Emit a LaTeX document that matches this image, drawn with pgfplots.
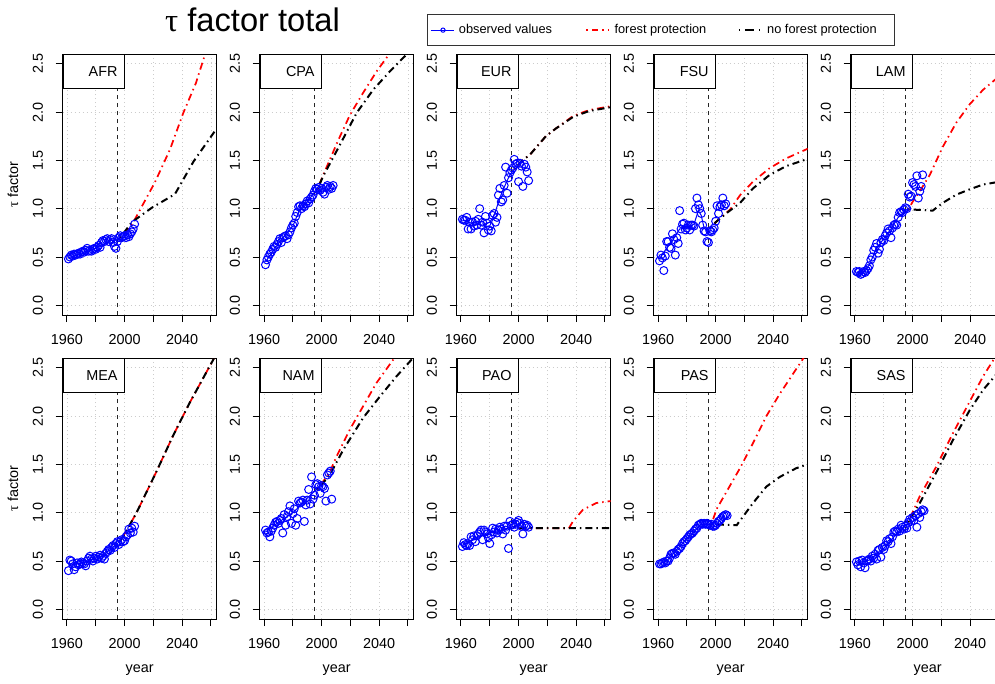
\documentclass[border=0pt]{standalone}
\usepackage{pgfplots}
\pgfplotsset{compat=1.18}
\usepackage{fontspec}
\setmainfont{Liberation Sans}
\newfontfamily\symf{Liberation Serif}
\newcommand\fs{\fontsize{10.8}{13}\selectfont}
\newcommand\ls{\fontsize{9.6}{11.5}\selectfont}

\pgfplotsset{
  panel/.style={
    scale only axis, width=115.5pt, height=195.75pt,
    xmin=1957, xmax=2064, ymin=-0.1, ymax=2.6,
    xtick={1960,1980,2000,2020,2040,2060},
    xticklabels={1960,,2000,,2040,},
    ytick={0,0.5,1,1.5,2,2.5},
    yticklabels={0.0,0.5,1.0,1.5,2.0,2.5},
    xtick pos=bottom, ytick pos=left,
    tick align=outside, major tick length=5.25pt,
    tick style={black, line width=0.75pt},
    axis line style={black, line width=0.75pt},
    grid=major, grid style={gray!40, line width=0.6pt, dash pattern=on 0.75pt off 2.25pt},
    ticklabel style={font=\fs},
    xticklabel shift=6pt, yticklabel shift=6pt,
    yticklabel style={rotate=90, anchor=south},
    every axis x label/.style={at={(axis description cs:0.5,0)}, anchor=center, yshift=-38.6pt, font=\fs},
  },
  obs/.style={only marks, mark=o, mark size=3pt, blue, mark options={line width=0.75pt}, forget plot},
  fit/.style={blue, line width=0.75pt, no marks, forget plot},
  fp/.style={red, line width=1.3pt, dash pattern=on 1.1pt off 3pt on 5.3pt off 3pt, no marks, forget plot},
  nfp/.style={black, line width=1.5pt, dash pattern=on 1.1pt off 3pt on 5.3pt off 3pt, no marks, forget plot},
  vl/.style={black!85, line width=0.6pt, dash pattern=on 3pt off 3pt, no marks, forget plot},
}
\newcommand\reg[1]{\node[draw, fill=white, line width=0.75pt, anchor=north west, inner xsep=5pt, inner ysep=0pt, text width=35.75pt, align=right, minimum height=25.5pt, font=\fs] at (rel axis cs:0,1) {#1};}

\begin{document}
\begin{tikzpicture}

% ---------- row 1 ----------
\begin{axis}[panel, at={(47pt,-40.5pt)}, anchor=north west,
  legend columns=3,
  legend style={at={(2.3636,1.1533)}, anchor=north west, draw=black!80, line width=0.75pt,
    font=\ls, inner xsep=2.5pt, inner ysep=5.5pt, column sep=1.3pt},
  legend cell align=left]
\addlegendimage{legend image code/.code={\draw[blue, line width=0.75pt] (0pt,0pt) -- (17.25pt,0pt); \draw[blue, line width=0.75pt] (9pt,0pt) circle[radius=1.6pt];}}
\addlegendentry{\makebox[91.8pt][l]{observed values}}
\addlegendimage{legend image code/.code={\draw[red, line width=1.1pt, dash pattern=on 1pt off 3.5pt on 4pt off 3.5pt] (0pt,0pt) -- (17.25pt,0pt);}}
\addlegendentry{\makebox[89.3pt][l]{forest protection}}
\addlegendimage{legend image code/.code={\draw[black, line width=1.3pt, dash pattern=on 1pt off 3.5pt on 7pt off 3.5pt] (0pt,0pt) -- (17.25pt,0pt);}}
\addlegendentry{\makebox[90.8pt][l]{no forest protection}}
\addplot[vl] coordinates {(1995,-0.1) (1995,2.6)};
\addplot[obs] coordinates {(1961,0.48)(1962,0.50)(1963,0.52)(1964,0.51)(1965,0.53)(1966,0.52)(1967,0.53)(1968,0.54)(1969,0.53)(1970,0.55)(1971,0.56)(1972,0.55)(1973,0.57)(1974,0.59)(1975,0.56)(1976,0.57)(1977,0.56)(1978,0.58)(1979,0.59)(1980,0.58)(1981,0.60)(1982,0.62)(1983,0.60)(1984,0.65)(1985,0.67)(1986,0.66)(1987,0.68)(1988,0.69)(1989,0.66)(1990,0.68)(1991,0.69)(1992,0.65)(1993,0.61)(1994,0.59)(1995,0.66)(1996,0.70)(1997,0.72)(1998,0.70)(1999,0.71)(2000,0.72)(2001,0.70)(2002,0.73)(2003,0.71)(2004,0.74)(2005,0.76)(2006,0.79)(2007,0.84)};
\addplot[fit] coordinates {(1961,0.49)(1970,0.54)(1980,0.59)(1990,0.67)(1995,0.68)(1997,0.70)};
\addplot[fp] coordinates {(1997,0.70)(2005,0.83)(2021,1.27)(2031.5,1.61)(2040.8,1.99)(2049.6,2.30)(2055.8,2.59)(2060,2.75)};
\addplot[nfp] coordinates {(1997,0.70)(2005,0.86)(2019,1.01)(2035,1.15)(2048,1.49)(2065,1.85)};
\reg{AFR}
\end{axis}

\begin{axis}[panel, at={(194.8pt,-40.5pt)}, anchor=north west]
\addplot[vl] coordinates {(1995,-0.1) (1995,2.6)};
\addplot[obs] coordinates {(1961,0.42)(1962,0.47)(1963,0.50)(1964,0.53)(1965,0.55)(1966,0.58)(1967,0.61)(1968,0.60)(1969,0.63)(1970,0.66)(1971,0.69)(1972,0.65)(1973,0.70)(1974,0.71)(1975,0.72)(1976,0.69)(1977,0.73)(1978,0.76)(1979,0.80)(1980,0.83)(1981,0.85)(1982,0.92)(1983,0.96)(1984,1.02)(1985,1.03)(1986,1.00)(1987,1.03)(1988,1.02)(1989,1.05)(1990,1.08)(1991,1.06)(1992,1.10)(1993,1.12)(1994,1.14)(1995,1.18)(1996,1.21)(1997,1.20)(1998,1.22)(1999,1.19)(2000,1.21)(2001,1.17)(2002,1.15)(2003,1.22)(2004,1.24)(2005,1.20)(2006,1.23)(2007,1.21)(2008,1.24)};
\addplot[fit] coordinates {(1961,0.45)(1970,0.64)(1980,0.82)(1985,1.00)(1990,1.07)(1995,1.17)(1997,1.20)};
\addplot[fp] coordinates {(1997,1.20)(2002.3,1.39)(2011.6,1.71)(2019.7,1.97)(2028.9,2.20)(2038.2,2.42)(2047,2.60)(2052,2.70)};
\addplot[nfp] coordinates {(1997,1.20)(2001.2,1.34)(2012.7,1.66)(2024.3,1.99)(2035.8,2.23)(2047.4,2.42)(2056.6,2.56)(2064,2.66)};
\reg{CPA}
\end{axis}

\begin{axis}[panel, at={(342.5pt,-40.5pt)}, anchor=north west]
\addplot[vl] coordinates {(1995,-0.1) (1995,2.6)};
\addplot[obs] coordinates {(1961,0.89)(1962,0.88)(1963,0.88)(1964,0.91)(1965,0.79)(1966,0.86)(1967,0.79)(1968,0.86)(1969,0.82)(1970,0.87)(1971,0.83)(1972,0.89)(1973,1.00)(1974,0.83)(1975,0.86)(1976,0.75)(1977,0.92)(1978,0.85)(1979,0.78)(1980,0.82)(1981,0.77)(1982,0.93)(1983,0.95)(1984,0.86)(1985,0.91)(1986,1.14)(1987,1.21)(1988,1.07)(1989,1.09)(1990,1.24)(1991,1.43)(1992,1.16)(1993,1.32)(1994,1.37)(1995,1.40)(1996,1.42)(1997,1.51)(1998,1.46)(1999,1.47)(2000,1.28)(2001,1.47)(2002,1.44)(2003,1.23)(2004,1.46)(2005,1.43)(2006,1.38)(2007,1.29)};
\addplot[fit] coordinates {(1961,0.88)(1965,0.86)(1970,0.84)(1975,0.83)(1980,0.86)(1983,0.93)(1985,1.02)(1988,1.15)(1990,1.22)(1993,1.32)(1995,1.37)(1997,1.41)};
\addplot[fp] coordinates {(1997,1.41)(2002,1.49)(2008,1.56)(2019,1.75)(2026,1.83)(2038,1.96)(2049,2.02)(2064,2.06)};
\addplot[nfp] coordinates {(1997,1.41)(2002,1.49)(2008,1.56)(2019,1.75)(2026,1.83)(2038,1.95)(2049,2.01)(2064,2.05)};
\reg{EUR}
\end{axis}

\begin{axis}[panel, at={(490.3pt,-40.5pt)}, anchor=north west]
\addplot[vl] coordinates {(1995,-0.1) (1995,2.6)};
\addplot[obs] coordinates {(1961,0.46)(1962,0.52)(1963,0.49)(1964,0.36)(1965,0.51)(1966,0.66)(1967,0.66)(1968,0.60)(1969,0.59)(1970,0.74)(1971,0.68)(1972,0.52)(1973,0.70)(1974,0.64)(1975,0.98)(1976,0.79)(1977,0.84)(1978,0.85)(1979,0.78)(1980,0.80)(1981,0.83)(1982,0.78)(1983,0.83)(1984,0.83)(1985,0.82)(1986,1.00)(1987,1.11)(1988,1.04)(1989,1.00)(1990,0.95)(1991,0.83)(1992,0.77)(1993,0.76)(1994,0.66)(1995,0.65)(1996,0.77)(1997,0.76)(1998,0.78)(1999,0.80)(2000,0.87)(2001,1.03)(2002,0.95)(2003,1.02)(2004,1.04)(2005,1.11)(2006,1.03)(2007,1.05)};
\addplot[fit] coordinates {(1961,0.48)(1965,0.57)(1970,0.67)(1975,0.79)(1980,0.80)(1985,0.84)(1988,0.98)(1990,0.93)(1992,0.80)(1995,0.75)(1997,0.78)};
\addplot[fp] coordinates {(1997,0.80)(2000,0.86)(2010,0.99)(2017,1.14)(2026,1.28)(2037.6,1.42)(2049,1.52)(2064,1.62)};
\addplot[nfp] coordinates {(1997,0.80)(2000,0.86)(2007.7,0.955)(2017,1.06)(2026,1.21)(2037.6,1.35)(2049,1.44)(2064,1.515)};
\reg{FSU}
\end{axis}

\begin{axis}[panel, at={(638pt,-40.5pt)}, anchor=north west]
\addplot[vl] coordinates {(1995,-0.1) (1995,2.6)};
\addplot[obs] coordinates {(1961,0.35)(1962,0.34)(1963,0.35)(1964,0.32)(1965,0.33)(1966,0.35)(1967,0.34)(1968,0.36)(1969,0.38)(1970,0.41)(1971,0.47)(1972,0.50)(1973,0.57)(1974,0.60)(1975,0.64)(1976,0.54)(1977,0.58)(1978,0.65)(1979,0.68)(1980,0.67)(1981,0.72)(1982,0.75)(1983,0.79)(1984,0.77)(1985,0.70)(1986,0.80)(1987,0.83)(1988,0.84)(1989,0.83)(1990,0.91)(1991,0.96)(1992,0.97)(1993,0.96)(1994,0.99)(1995,1.01)(1996,1.00)(1997,1.15)(1998,1.12)(1999,1.13)(2000,1.27)(2001,1.25)(2002,1.23)(2003,1.34)(2004,1.11)(2005,1.18)(2006,1.23)(2007,1.35)};
\addplot[fit] coordinates {(1961,0.34)(1966,0.34)(1970,0.42)(1975,0.59)(1980,0.69)(1985,0.79)(1990,0.91)(1995,0.98)(1997,1.00)};
\addplot[fp] coordinates {(1997,0.99)(2000,1.07)(2005,1.18)(2012,1.35)(2021,1.64)(2030.4,1.89)(2039.7,2.08)(2049,2.23)(2057,2.33)(2064,2.42)};
\addplot[nfp] coordinates {(1997,0.99)(2001,0.99)(2014,0.98)(2021,1.06)(2030.4,1.145)(2039.7,1.20)(2049,1.25)(2057,1.27)(2064,1.29)};
\reg{LAM}
\end{axis}

% ---------- row 2 ----------
\begin{axis}[panel, at={(47pt,-268.5pt)}, anchor=north west, xlabel={year}]
\addplot[vl] coordinates {(1995,-0.1) (1995,2.6)};
\addplot[obs] coordinates {(1961,0.40)(1962,0.51)(1963,0.50)(1964,0.47)(1965,0.41)(1966,0.44)(1967,0.48)(1968,0.46)(1969,0.47)(1970,0.49)(1971,0.48)(1972,0.47)(1973,0.45)(1974,0.50)(1975,0.53)(1976,0.55)(1977,0.52)(1978,0.50)(1979,0.53)(1980,0.55)(1981,0.52)(1982,0.54)(1983,0.56)(1984,0.53)(1985,0.55)(1986,0.52)(1987,0.58)(1988,0.60)(1989,0.62)(1990,0.61)(1991,0.64)(1992,0.66)(1993,0.64)(1994,0.68)(1995,0.70)(1996,0.67)(1997,0.70)(1998,0.72)(1999,0.70)(2000,0.71)(2001,0.75)(2002,0.77)(2003,0.83)(2004,0.79)(2005,0.84)(2006,0.80)(2007,0.86)};
\addplot[fit] coordinates {(1961,0.45)(1970,0.48)(1980,0.53)(1985,0.56)(1990,0.62)(1995,0.68)(1997,0.71)};
\addplot[fp] coordinates {(1997,0.71)(2000,0.78)(2008,0.99)(2022,1.42)(2033.5,1.79)(2045,2.13)(2060.8,2.56)(2064,2.65)};
\addplot[nfp, dash phase=4pt] coordinates {(1997,0.71)(2000,0.78)(2008,0.99)(2022,1.42)(2033.5,1.79)(2045,2.13)(2060.8,2.56)(2064,2.65)};
\reg{MEA}
\end{axis}

\begin{axis}[panel, at={(194.8pt,-268.5pt)}, anchor=north west, xlabel={year}]
\addplot[vl] coordinates {(1995,-0.1) (1995,2.6)};
\addplot[obs] coordinates {(1961,0.82)(1962,0.79)(1963,0.80)(1964,0.75)(1965,0.81)(1966,0.84)(1967,0.87)(1968,0.90)(1969,0.91)(1970,0.89)(1971,0.92)(1972,0.94)(1973,0.79)(1974,0.98)(1975,0.87)(1976,0.96)(1977,1.01)(1978,1.07)(1979,0.89)(1980,0.99)(1981,1.04)(1982,0.87)(1983,0.94)(1984,1.12)(1985,1.10)(1986,1.11)(1987,1.13)(1988,0.91)(1989,1.08)(1990,1.13)(1991,1.24)(1992,1.09)(1993,1.37)(1994,1.14)(1995,1.18)(1996,1.29)(1997,1.30)(1998,1.27)(1999,1.20)(2000,1.28)(2001,1.27)(2002,1.25)(2003,1.12)(2004,1.39)(2005,1.41)(2006,1.43)(2007,1.14)};
\addplot[fit] coordinates {(1961,0.80)(1970,0.90)(1980,1.00)(1985,1.07)(1990,1.15)(1995,1.22)(1997,1.25)};
\addplot[fp] coordinates {(1997,1.25)(2000,1.30)(2005.7,1.42)(2010.3,1.58)(2019.6,1.86)(2028.8,2.10)(2038,2.34)(2049.6,2.58)(2053,2.66)};
\addplot[nfp] coordinates {(1997,1.24)(2000,1.29)(2005.7,1.39)(2015,1.65)(2028.8,1.98)(2040.4,2.20)(2052,2.41)(2062.3,2.58)(2064,2.61)};
\reg{NAM}
\end{axis}

\begin{axis}[panel, at={(342.5pt,-268.5pt)}, anchor=north west, xlabel={year}]
\addplot[vl] coordinates {(1995,-0.1) (1995,2.6)};
\addplot[obs] coordinates {(1961,0.65)(1962,0.69)(1963,0.67)(1964,0.66)(1965,0.68)(1966,0.66)(1967,0.75)(1968,0.72)(1969,0.76)(1970,0.70)(1971,0.76)(1972,0.78)(1973,0.80)(1974,0.82)(1975,0.72)(1976,0.82)(1977,0.80)(1978,0.78)(1979,0.74)(1980,0.68)(1981,0.77)(1982,0.84)(1983,0.80)(1984,0.83)(1985,0.79)(1986,0.82)(1987,0.85)(1988,0.83)(1989,0.78)(1990,0.86)(1991,0.82)(1992,0.86)(1993,0.63)(1994,0.91)(1995,0.87)(1996,0.88)(1997,0.85)(1998,0.88)(1999,0.90)(2000,0.92)(2001,0.89)(2002,0.86)(2003,0.78)(2004,0.88)(2005,0.86)(2006,0.87)(2007,0.85)};
\addplot[fit] coordinates {(1961,0.66)(1970,0.74)(1980,0.79)(1990,0.83)(1997,0.86)};
\addplot[fp] coordinates {(1997,0.86)(2000,0.84)(2035,0.84)(2037.8,0.91)(2044.7,1.03)(2054,1.10)(2064,1.12)};
\addplot[nfp] coordinates {(1997,0.86)(2000,0.84)(2064,0.84)};
\reg{PAO}
\end{axis}

\begin{axis}[panel, at={(490.3pt,-268.5pt)}, anchor=north west, xlabel={year}]
\addplot[vl] coordinates {(1995,-0.1) (1995,2.6)};
\addplot[obs] coordinates {(1961,0.47)(1962,0.47)(1963,0.48)(1964,0.49)(1965,0.48)(1966,0.50)(1967,0.50)(1968,0.53)(1969,0.57)(1970,0.58)(1971,0.58)(1972,0.57)(1973,0.60)(1974,0.62)(1975,0.63)(1976,0.65)(1977,0.68)(1978,0.70)(1979,0.71)(1980,0.73)(1981,0.75)(1982,0.77)(1983,0.78)(1984,0.79)(1985,0.81)(1986,0.83)(1987,0.84)(1988,0.87)(1989,0.88)(1990,0.89)(1991,0.88)(1992,0.89)(1993,0.88)(1994,0.89)(1995,0.88)(1996,0.87)(1997,0.88)(1998,0.86)(1999,0.86)(2000,0.87)(2001,0.89)(2002,0.91)(2003,0.92)(2004,0.94)(2005,0.96)(2006,0.97)(2007,0.98)(2008,0.97)};
\addplot[fit] coordinates {(1961,0.47)(1966,0.50)(1970,0.57)(1980,0.73)(1990,0.88)(1997,0.88)};
\addplot[fp] coordinates {(1997,0.88)(2000.8,1.04)(2007.7,1.22)(2016.9,1.46)(2026,1.72)(2035.3,2.00)(2044.6,2.23)(2060.2,2.58)(2064,2.67)};
\addplot[nfp] coordinates {(1997,0.88)(2014.6,0.87)(2026,1.10)(2035.3,1.27)(2044.6,1.37)(2056,1.46)(2064,1.50)};
\reg{PAS}
\end{axis}

\begin{axis}[panel, at={(638pt,-268.5pt)}, anchor=north west, xlabel={year}]
\addplot[vl] coordinates {(1995,-0.1) (1995,2.6)};
\addplot[obs] coordinates {(1961,0.49)(1962,0.46)(1963,0.50)(1964,0.44)(1965,0.51)(1966,0.48)(1967,0.43)(1968,0.50)(1969,0.51)(1970,0.52)(1971,0.50)(1972,0.55)(1973,0.53)(1974,0.57)(1975,0.52)(1976,0.61)(1977,0.62)(1978,0.54)(1979,0.64)(1980,0.62)(1981,0.66)(1982,0.71)(1983,0.70)(1984,0.73)(1985,0.68)(1986,0.75)(1987,0.80)(1988,0.81)(1989,0.80)(1990,0.83)(1991,0.81)(1992,0.87)(1993,0.85)(1994,0.83)(1995,0.86)(1996,0.84)(1997,0.90)(1998,0.93)(1999,0.91)(2000,0.95)(2001,0.92)(2002,0.97)(2003,0.85)(2004,0.99)(2005,0.95)(2006,1.01)(2007,1.03)(2008,1.02)};
\addplot[fit] coordinates {(1961,0.48)(1970,0.51)(1980,0.63)(1990,0.80)(1997,0.89)};
\addplot[fp] coordinates {(1997,0.90)(2005,1.17)(2016.6,1.48)(2028,1.82)(2039.7,2.15)(2049,2.41)(2057,2.60)(2064,2.78)};
\addplot[nfp] coordinates {(1997,0.90)(2005,1.10)(2016.6,1.42)(2028,1.75)(2039.7,2.06)(2049,2.27)(2057,2.41)(2064,2.54)};
\reg{SAS}
\end{axis}

% titles and axis titles
\node[anchor=base, font=\fontsize{24.5}{29}\selectfont] at (189.4pt,-23.8pt) {{\symf τ} factor total};
\node[rotate=90, font=\fs] at (9.75pt,-138.4pt) {{\symf τ} factor};
\node[rotate=90, font=\fs] at (9.75pt,-366.4pt) {{\symf τ} factor};

\pgfresetboundingbox
\path (0pt,0pt) rectangle (746.25pt,-512.25pt);
\end{tikzpicture}
\end{document}
